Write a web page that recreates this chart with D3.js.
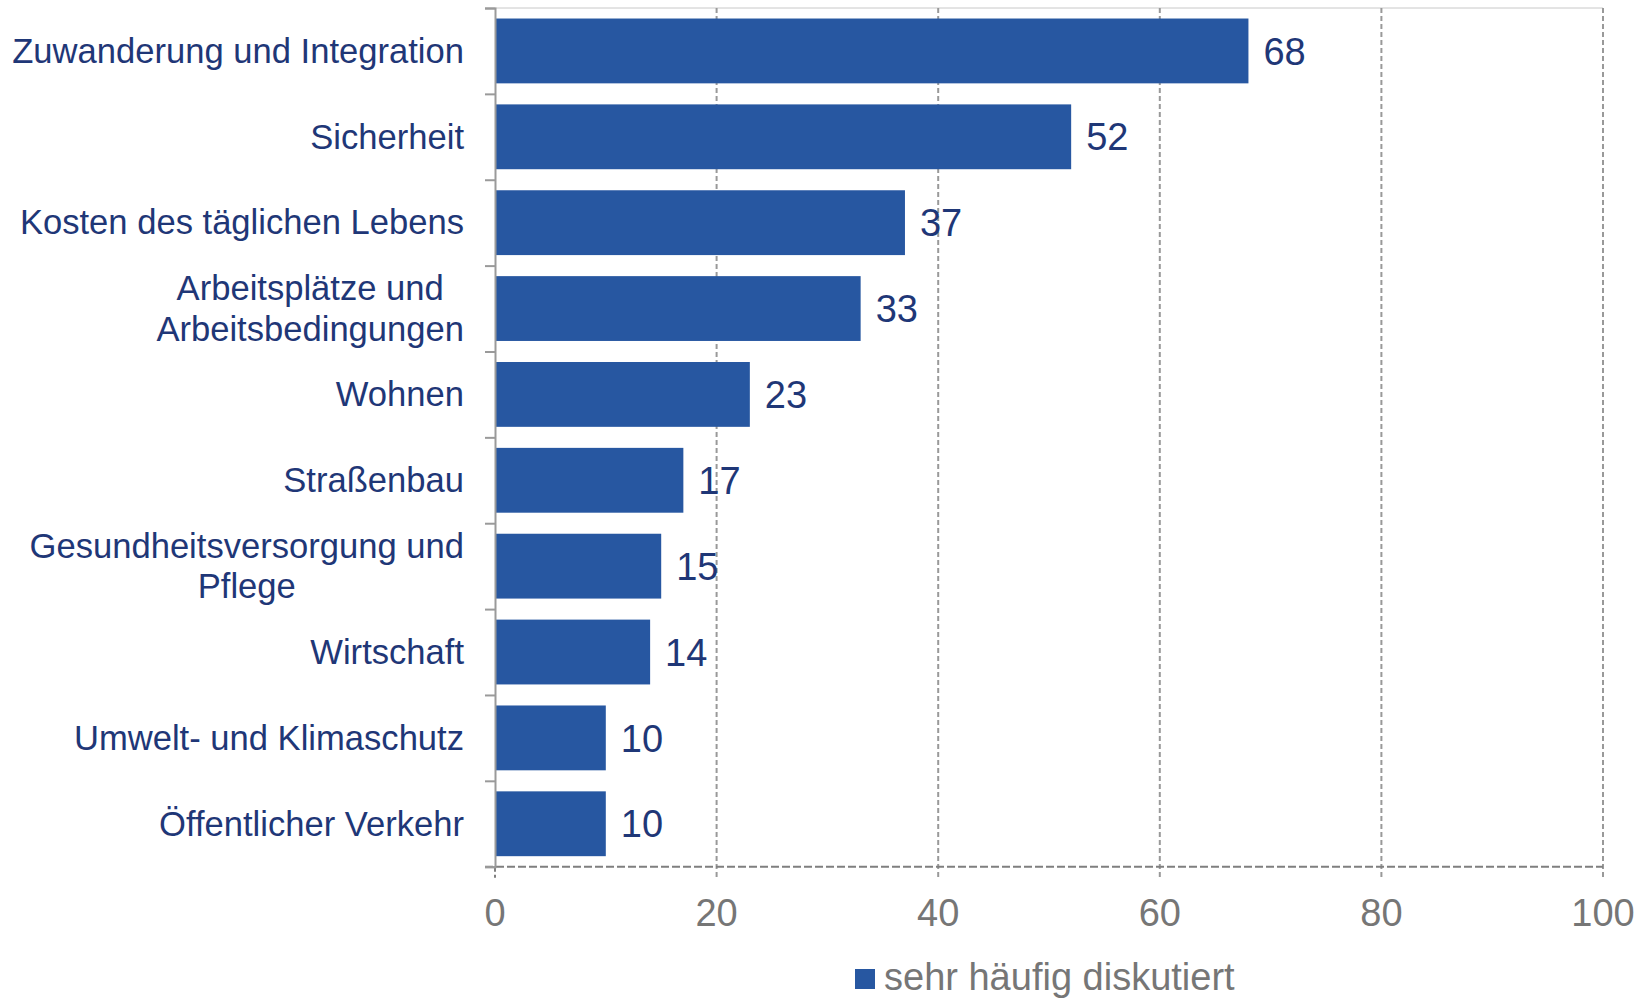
<!DOCTYPE html>
<html>
<head>
<meta charset="utf-8">
<script src="https://cdn.jsdelivr.net/npm/d3@7"></script>
<style>
  body { margin: 0; background: #fff; }
  text { font-family: "Liberation Sans", Arial, sans-serif; }
</style>
</head>
<body>
<div class="chart"></div>
<script>
"use strict";

var categories = [
  ["Zuwanderung und Integration"],
  ["Sicherheit"],
  ["Kosten des täglichen Lebens"],
  ["Arbeitsplätze und", "Arbeitsbedingungen"],
  ["Wohnen"],
  ["Straßenbau"],
  ["Gesundheitsversorgung und", "Pflege"],
  ["Wirtschaft"],
  ["Umwelt- und Klimaschutz"],
  ["Öffentlicher Verkehr"]
];
var values = [68, 52, 37, 33, 23, 17, 15, 14, 10, 10];
var xTicks = [0, 20, 40, 60, 80, 100];
var seriesName = "sehr häufig diskutiert";

function drawChart(){

  var width = 1650,
      height = 999,
      plotLeft = 495, plotRight = 1603, plotTop = 8, plotBottom = 866.7;

  var barColor = "#2757a1",
      navy = "#1f3777",
      gray = "#767676";

  var svg = d3.select(".chart")
            .append("svg")
            .attr("width", width)
            .attr("height", height);

  var x = d3.scaleLinear().domain([0, 100]).range([plotLeft, plotRight]);
  var y = d3.scaleBand()
      .domain(d3.range(values.length))
      .range([plotTop, plotBottom])
      .paddingInner(0.245)
      .paddingOuter(0.1225);

  // top border
  svg.append("line")
      .attr("x1", plotLeft).attr("x2", plotRight)
      .attr("y1", plotTop).attr("y2", plotTop)
      .style("stroke", "#c8c8c8").style("stroke-width", 1);

  // vertical grid
  svg.append("g")
      .selectAll("line")
      .data(xTicks.slice(1))
      .enter().append("line")
        .attr("x1", function(d){ return x(d); })
        .attr("x2", function(d){ return x(d); })
        .attr("y1", plotTop)
        .attr("y2", plotBottom + 11)
        .style("stroke", "#999999")
        .style("stroke-width", 2)
        .style("stroke-dasharray", "5,3");

  // bars
  svg.append("g")
      .selectAll("rect")
      .data(values)
      .enter().append("rect")
        .attr("x", x(0))
        .attr("y", function(d, i){ return y(i); })
        .attr("width", function(d){ return x(d) - x(0); })
        .attr("height", y.bandwidth())
        .attr("fill", barColor);

  // value labels
  svg.append("g")
      .selectAll("text")
      .data(values)
      .enter().append("text")
        .attr("x", function(d){ return x(d) + 15; })
        .attr("y", function(d, i){ return y(i) + y.bandwidth() / 2; })
        .attr("dy", "0.36em")
        .attr("fill", navy)
        .style("font-size", "38px")
        .text(function(d){ return d; });

  // bottom axis (dashed) with tick at 0
  svg.append("line")
      .attr("x1", plotLeft - 10).attr("x2", plotRight)
      .attr("y1", plotBottom).attr("y2", plotBottom)
      .style("stroke", "#7f7f7f")
      .style("stroke-width", 2)
      .style("stroke-dasharray", "8,3");

  svg.append("line")
      .attr("x1", plotLeft).attr("x2", plotLeft)
      .attr("y1", plotBottom).attr("y2", plotBottom + 11)
      .style("stroke", "#7f7f7f")
      .style("stroke-width", 2)
      .style("stroke-dasharray", "5,3");

  // left axis
  var yAxis = d3.axisLeft(d3.scaleLinear().domain([0, values.length]).range([plotTop, plotBottom]))
      .ticks(values.length)
      .tickSize(10)
      .tickFormat("");

  var ya = svg.append("g")
      .attr("transform", "translate(" + plotLeft + ",0)")
      .call(yAxis);
  ya.select(".domain").attr("stroke", "#9a9a9a").attr("stroke-width", 2);
  ya.selectAll(".tick line").attr("stroke", "#9a9a9a").attr("stroke-width", 2);

  // category labels (wrapped lines centered, block right aligned)
  var labelRight = 464;
  var catG = svg.append("g");
  categories.forEach(function(lines, i){
    var g = catG.append("g");
    var cy = y(i) + y.bandwidth() / 2;
    var lh = 40.5;
    var t = g.selectAll("text")
        .data(lines)
        .enter().append("text")
          .attr("y", function(d, j){ return cy + (j - (lines.length - 1) / 2) * lh; })
          .attr("dy", "0.34em")
          .attr("fill", navy)
          .attr("text-anchor", "middle")
          .style("font-size", "34.6px")
          .text(function(d){ return d; });
    var maxW = 0;
    t.each(function(){ maxW = Math.max(maxW, this.getComputedTextLength()); });
    t.attr("x", labelRight - maxW / 2);
  });

  // x tick labels
  svg.append("g")
      .selectAll("text")
      .data(xTicks)
      .enter().append("text")
        .attr("x", function(d){ return x(d); })
        .attr("y", 926)
        .attr("text-anchor", "middle")
        .attr("fill", gray)
        .style("font-size", "38px")
        .text(function(d){ return d; });

  // legend
  var legend = svg.append("g");
  legend.append("rect")
      .attr("x", 855).attr("y", 969)
      .attr("width", 20).attr("height", 20)
      .attr("fill", barColor);
  legend.append("text")
      .attr("x", 884).attr("y", 990)
      .attr("fill", gray)
      .style("font-size", "38px")
      .text(seriesName);
}

drawChart();
</script>
</body>
</html>
